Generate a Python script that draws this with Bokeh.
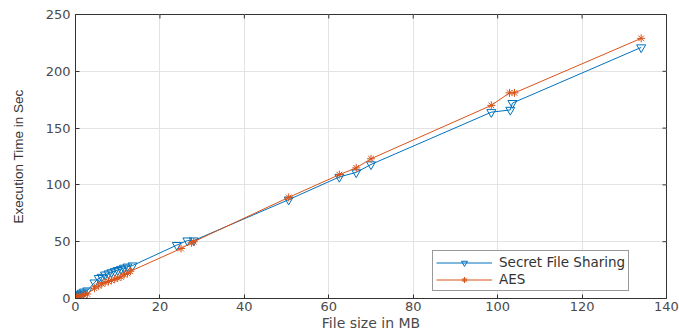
from bokeh.plotting import figure
from bokeh.embed import file_html
from bokeh.resources import INLINE
from bokeh.models import Range1d, Legend, LegendItem, FixedTicker

sfs_x = [0.1, 0.3, 0.6, 1.0, 1.5, 2.0, 2.8, 4.5, 5.5, 6.2, 7.0, 7.8, 8.5, 9.3, 10.0, 10.8, 11.5, 12.3, 13.5,
         24.0, 26.5, 28.0, 50.5, 62.5, 66.5, 70.0, 98.5, 103.0, 103.5, 134.0]
sfs_y = [1, 2, 3, 4, 5, 6, 7, 14, 18, 19, 21, 22, 23, 24, 25, 26, 27, 28, 29,
         47, 51, 51, 87, 107, 111, 118, 164, 166, 172, 221]

aes_x = [0.1, 0.3, 0.6, 1.0, 1.5, 2.0, 2.8, 4.5, 5.5, 6.2, 7.0, 7.8, 8.5, 9.3, 10.0, 10.8, 11.5, 12.3, 13.0,
         25.0, 27.5, 28.0, 50.5, 62.5, 66.5, 70.0, 98.5, 102.8, 104.0, 134.0]
aes_y = [0.5, 1, 1.5, 2, 2.5, 3, 4, 9, 11, 13, 14, 15, 16, 17, 18, 19, 21, 22, 24,
         44, 49, 50, 89, 109, 115, 123, 170, 181, 181, 229]

x_ticks = [0, 20, 40, 60, 80, 100, 120, 140]
y_ticks = [0, 50, 100, 150, 200, 250]

BLUE = "#0072BD"
RED = "#D95319"
TXT = "#4a4a4a"
X0, X1, Y0, Y1 = 0, 140, 0, 250

p = figure(width=679, height=336, output_backend="svg", toolbar_location=None,
           x_range=Range1d(X0, X1), y_range=Range1d(Y0, Y1),
           min_border_left=75, min_border_right=13, min_border_top=14, min_border_bottom=38)

p.background_fill_color = "white"
p.border_fill_color = "white"
p.outline_line_color = "#333333"
p.outline_line_width = 1

for ax in (p.xaxis[0], p.yaxis[0]):
    ax.major_tick_in = 4
    ax.major_tick_out = 0
    ax.minor_tick_line_color = None
    ax.axis_line_color = "#333333"
    ax.major_tick_line_color = "#333333"
    ax.major_label_text_font = "DejaVu Sans"
    ax.major_label_text_font_size = "13px"
    ax.major_label_text_color = TXT
    ax.axis_label_text_font = "Liberation Sans"
    ax.axis_label_text_font_style = "normal"
    ax.axis_label_text_color = TXT

p.xaxis.ticker = FixedTicker(ticks=x_ticks)
p.yaxis.ticker = FixedTicker(ticks=y_ticks)
p.xaxis.axis_label = "File size in MB"
p.xaxis.axis_label_text_font = "DejaVu Sans"
p.xaxis.axis_label_text_font_size = "14px"
p.xaxis.axis_label_standoff = 1
p.xaxis.major_label_standoff = 3
p.yaxis.axis_label = "Execution Time in Sec"
p.yaxis.axis_label_text_font_size = "13.5px"
p.yaxis.axis_label_text_color = "#333333"
p.yaxis.axis_label_standoff = 17
p.yaxis.major_label_standoff = 5

# inward tick marks on the top and right edges of the box, built from the tick lists
tx = (X1 - X0) * 4 / 591
ty = (Y1 - Y0) * 4 / 284
p.segment(x_ticks, [Y1] * len(x_ticks), x_ticks, [Y1 - ty] * len(x_ticks), line_color="#333333", line_width=1)
p.segment([X1] * len(y_ticks), y_ticks, [X1 - tx] * len(y_ticks), y_ticks, line_color="#333333", line_width=1)

p.xgrid.ticker = FixedTicker(ticks=x_ticks)
p.ygrid.ticker = FixedTicker(ticks=y_ticks)
p.grid.grid_line_color = "#e3e3e3"
p.grid.grid_line_width = 1

l1 = p.line(sfs_x, sfs_y, line_color=BLUE, line_width=1)
m1 = p.scatter(sfs_x, sfs_y, marker="inverted_triangle", size=9, line_color=BLUE,
               fill_color=None, line_width=1)
l2 = p.line(aes_x, aes_y, line_color=RED, line_width=1)
m2 = p.scatter(aes_x, aes_y, marker="asterisk", size=8, line_color=RED, line_width=1)

legend = Legend(items=[LegendItem(label="Secret File Sharing", renderers=[l1, m1]),
                       LegendItem(label="AES", renderers=[l2, m2])],
                location=(357, 7))
legend.label_text_font = "DejaVu Sans"
legend.label_text_font_size = "13.5px"
legend.label_text_color = "#333333"
legend.border_line_color = "#333333"
legend.border_line_width = 1
legend.background_fill_alpha = 1
legend.glyph_width = 56
legend.glyph_height = 15
legend.label_height = 15
legend.spacing = 1
legend.padding = 3
legend.margin = 0
legend.label_standoff = 7
p.add_layout(legend, "center")

open("out.html", "w").write(file_html(p, INLINE))
